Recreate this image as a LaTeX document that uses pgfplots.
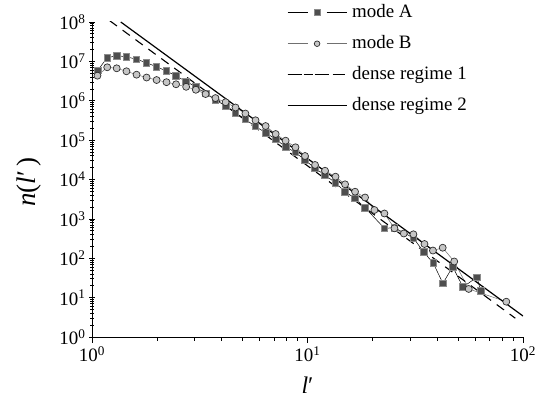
\documentclass[border=0pt]{standalone}
\usepackage{fontspec}
\setmainfont{Liberation Serif}
\usepackage{pgfplots}
\pgfplotsset{compat=1.18}
\definecolor{sqfill}{HTML}{4E4E4E}
\definecolor{sqdraw}{HTML}{8C8C8C}
\definecolor{cifill}{HTML}{C6C6C6}
\definecolor{cidraw}{HTML}{2E2E2E}
\definecolor{blinegray}{HTML}{707070}
\begin{document}
\begin{tikzpicture}
\begin{axis}[
  scale only axis,
  width=431bp, height=315bp,
  xmode=log, ymode=log,
  xmin=1, xmax=100, ymin=1, ymax=1e8,
  axis lines*=left,
  axis line style={line width=0.8bp},
  xtick={1,10,100},
  xticklabels={10\textsuperscript{0},10\textsuperscript{1},10\textsuperscript{2}},
  ytick={1,10,100,1000,10000,100000,1000000,10000000,100000000},
  yticklabels={10\textsuperscript{0},10\textsuperscript{1},10\textsuperscript{2},10\textsuperscript{3},10\textsuperscript{4},10\textsuperscript{5},10\textsuperscript{6},10\textsuperscript{7},10\textsuperscript{8}},
  xtick align=outside,
  ytick align=center,
  major tick length=6bp,
  minor tick length=4bp,
  every tick/.style={line width=0.7bp, black},
  tick label style={font=\fontsize{19}{22}\selectfont},
  xlabel={\textit{l}′},
  ylabel={\textit{n}(\textit{l}′\,)},
  xlabel style={font=\fontsize{24}{27}\selectfont, at={(axis description cs:0.5,-0.153)}, anchor=center},
  ylabel style={font=\fontsize{27}{30}\selectfont, at={(axis description cs:-0.146,0.492)}, anchor=center},
  legend style={draw=none, fill=none, inner sep=0pt, outer sep=0pt,
    at={(axis description cs:0.4524,1.058)}, anchor=north west,
    font=\fontsize{19}{22}\selectfont,
    nodes={inner sep=0pt, text height=14bp, text depth=4bp},
    row sep=13bp, column sep=5bp},
  legend cell align=left,
  clip=true,
]
\addplot[black, line width=0.5bp, mark=square*, mark size=3.3bp,
  mark options={fill=sqfill, draw=sqdraw, line width=0.7bp, solid},
  legend image code/.code={
    \draw[black, line width=0.7bp] (0bp,0bp) -- (20bp,0bp) (39bp,0bp) -- (59bp,0bp);
    \draw[mark=square*, mark size=3bp, mark options={fill=sqfill, draw=sqdraw, line width=0.7bp}] plot coordinates {(29.5bp,0bp)};
  }] coordinates {
(1.063,5.93e6) (1.177,1.24e7) (1.302,1.39e7) (1.445,1.31e7) (1.608,1.13e7)
(1.789,9.25e6) (1.988,7.32e6) (2.217,5.70e6) (2.452,4.25e6) (2.729,3.12e6)
(3.033,2.24e6) (3.365,1.53e6) (3.737,1.06e6) (4.169,7.36e5) (4.629,4.98e5)
(5.146,3.38e5) (5.733,2.22e5) (6.394,1.55e5) (7.116,1.05e5) (7.917,6.81e4)
(8.796,4.85e4) (9.737,3.13e4) (10.84,1.92e4) (12.06,1.30e4) (13.46,8.30e3)
(14.94,4.90e3) (16.62,3.33e3) (18.50,1.92e3) (22.75,576) (25.32,597)
(31.01,327) (34.59,144) (38.30,75.7) (42.50,23.1) (47.19,61.0)
(52.63,18.6) (61.13,32.8) (63.67,14.7)
};
\addlegendentry{mode A}
\addplot[blinegray, line width=0.5bp, mark=*, mark size=3.5bp,
  mark options={fill=cifill, draw=cidraw, line width=0.7bp, solid},
  legend image code/.code={
    \draw[blinegray, line width=0.7bp] (0bp,0bp) -- (20bp,0bp) (39bp,0bp) -- (59bp,0bp);
    \draw[mark=*, mark size=2.8bp, mark options={fill=cifill, draw=cidraw, line width=0.7bp}] plot coordinates {(29.5bp,0bp)};
  }] coordinates {
(1.060,4.33e6) (1.177,7.08e6) (1.302,6.67e6) (1.445,5.60e6) (1.610,4.59e6)
(1.792,3.89e6) (1.995,3.36e6) (2.217,2.96e6) (2.455,2.62e6) (2.735,2.26e6)
(3.033,1.90e6) (3.365,1.48e6) (3.740,1.17e6) (4.169,9.18e5) (4.634,6.74e5)
(5.150,4.74e5) (5.740,3.19e5) (6.394,2.28e5) (7.116,1.43e5) (7.917,9.67e4)
(8.796,6.58e4) (9.737,3.95e4) (10.84,2.34e4) (12.06,1.67e4) (13.49,1.18e4)
(14.94,7.55e3) (16.62,4.90e3) (18.50,3.49e3) (20.44,1.68e3) (22.75,1.37e3)
(25.32,576) (27.99,425) (31.01,406) (34.9,230) (38.2,157)
(42.4,185) (47.95,82.7) (55.99,16.6) (83.66,7.88)
};
\addlegendentry{mode B}
\addplot[black, line width=1.1bp, dash pattern=on 9bp off 7bp,
  legend image code/.code={
    \path (0bp,0bp) -- (59bp,0bp);
    \draw[solid, black, line width=1.1bp] (0bp,0bp) -- (5bp,0bp) (9bp,0bp) -- (14bp,0bp) (18bp,0bp) -- (23bp,0bp) (27bp,0bp) -- (32bp,0bp) (36bp,0bp) -- (41bp,0bp) (45bp,0bp) -- (50bp,0bp);
  }] coordinates {(1.208,1.08e8) (92.1,3.0)};
\addlegendentry{dense regime 1}
\addplot[black, line width=1.2bp,
  legend image code/.code={
    \draw[black, line width=1.2bp] (0bp,0bp) -- (59bp,0bp);
  }] coordinates {(1.36,1.0e8) (100,3.41)};
\addlegendentry{dense regime 2}
\end{axis}
\path ([shift={(-92bp,-65bp)}]current axis.south west) rectangle ++(547bp,402bp);
\end{tikzpicture}
\end{document}
